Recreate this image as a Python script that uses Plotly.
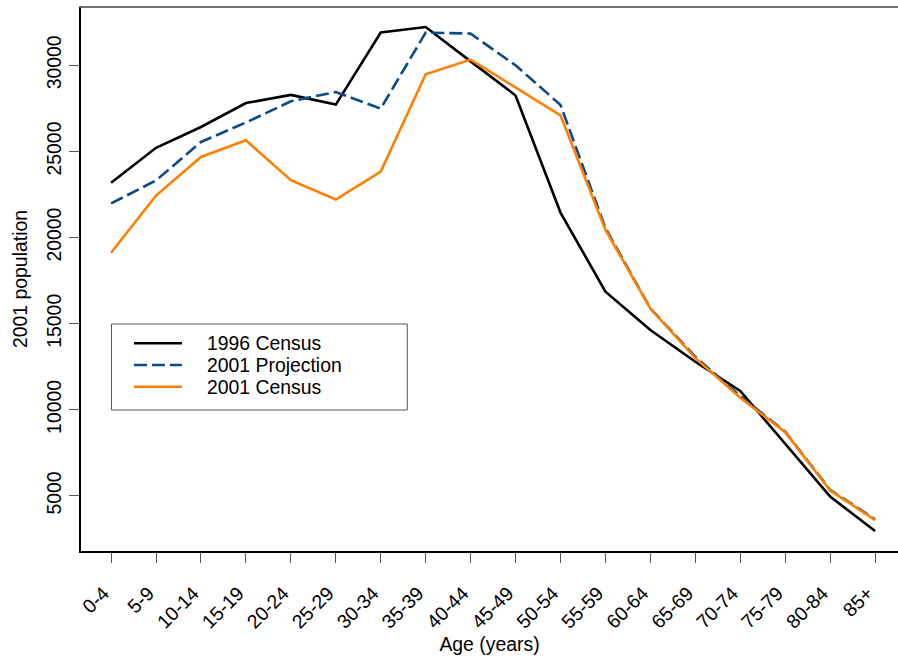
import plotly.graph_objects as go

categories = ["0-4", "5-9", "10-14", "15-19", "20-24", "25-29", "30-34", "35-39",
              "40-44", "45-49", "50-54", "55-59", "60-64", "65-69", "70-74",
              "75-79", "80-84", "85+"]
census_1996 = [23180, 25210, 26420, 27810, 28280, 27720, 31900, 32220, 30230,
               28250, 21450, 16860, 14630, 12790, 11100, 8050, 4960, 2970]
projection_2001 = [21980, 23320, 25550, 26680, 27910, 28450, 27490, 31900, 31840,
                   30000, 27700, 20550, 15890, 13080, 10800, 8730, 5350, 3650]
census_2001 = [19120, 22440, 24680, 25650, 23330, 22210, 23830, 29480, 30330,
               28720, 27100, 20450, 15880, 13000, 10700, 8700, 5320, 3600]
series_names = ["1996 Census", "2001 Projection", "2001 Census"]
y_ticks = [5000, 10000, 15000, 20000, 25000, 30000]

colors = ["#000000", "#0b4a88", "#ff7f00"]
dashes = ["solid", "13px,5px", "solid"]
FONT = "Liberation Sans, Arial, sans-serif"
FS = 19.4

W_FIG, H_FIG = 898, 658
L, T, R, B = 80.5, 7, 0, 107
PW = W_FIG - L - R
PH = H_FIG - T - B

def px(x):
    return (x - L) / PW

def py(y):
    return 1 - (y - T) / PH

fig = go.Figure()
for name, vals, c, d in zip(series_names, [census_1996, projection_2001, census_2001], colors, dashes):
    fig.add_trace(go.Scatter(x=categories, y=vals, mode="lines", name=name,
                             line=dict(color=c, width=2.6, dash=d), showlegend=False))

# plot top border
fig.add_shape(type="line", xref="paper", yref="paper", x0=-0.002, x1=1, y0=1, y1=1,
              line=dict(color="#444444", width=1.3), layer="above")

# manual legend (R style)
fig.add_shape(type="rect", xref="paper", yref="paper",
              x0=px(111), x1=px(407), y0=py(410), y1=py(324),
              line=dict(color="#555555", width=1), fillcolor="white", layer="above")
rows = [343.3, 365, 386.7]
for name, c, d, ry in zip(series_names, colors, ["solid", "13px,5px", "solid"], rows):
    fig.add_shape(type="line", xref="paper", yref="paper",
                  x0=px(133.5), x1=px(181.5), y0=py(ry), y1=py(ry),
                  line=dict(color=c, width=2.6, dash=d), layer="above")
    fig.add_annotation(xref="paper", yref="paper", x=px(205), y=py(ry), text=name,
                       showarrow=False, xanchor="left", yanchor="middle",
                       font=dict(family=FONT, size=FS, color="black"))

fig.update_layout(
    width=W_FIG, height=H_FIG,
    margin=dict(l=L, r=R, t=T, b=B, pad=0, autoexpand=False),
    paper_bgcolor="white", plot_bgcolor="white",
    font=dict(family=FONT, size=FS, color="black"),
    showlegend=False,
)
fig.update_xaxes(
    type="category", range=[-0.67, 17.51], automargin=False,
    tickvals=categories, ticktext=[c + "\u00a0\u00a0" for c in categories],
    showgrid=False, zeroline=False,
    showline=True, linecolor="black", linewidth=1.5,
    ticks="outside", ticklen=10, tickwidth=1, tickcolor="#555555",
    tickangle=-45, tickfont=dict(family=FONT, size=FS), ticklabelstandoff=4,
    title=dict(text="Age (years)", font=dict(family=FONT, size=FS), standoff=1),
)
fig.update_yaxes(
    range=[1805, 33385], automargin=False,
    tickvals=y_ticks, ticktext=[str(v) for v in y_ticks],
    showgrid=False, zeroline=False,
    showline=True, linecolor="black", linewidth=1.5,
    ticks="outside", ticklen=10, tickwidth=1, tickcolor="#555555",
    tickangle=-90, tickfont=dict(family=FONT, size=FS), ticklabelstandoff=0,
    title=dict(text="2001 population", font=dict(family=FONT, size=FS), standoff=11),
)

fig.write_html("out.html", config={"displayModeBar": False},
               post_script="document.body.style.margin='0';document.body.style.overflow='hidden';")
